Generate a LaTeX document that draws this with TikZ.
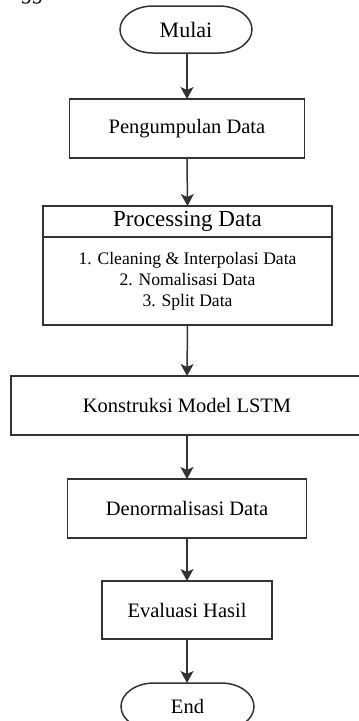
\documentclass[tikz,border=0pt]{standalone}
\usepackage{fontspec}
\setmainfont{Liberation Serif}
\usetikzlibrary{arrows.meta}
\newcommand\termoutline[1]{%
  \draw[draw=black!80, line width=1.5pt]
    ([xshift=33pt]#1.north west) -- ([xshift=-33pt]#1.north east)
    arc[start angle=90, end angle=-90, x radius=33pt, y radius=23.5pt]
    -- ([xshift=33pt]#1.south west)
    arc[start angle=270, end angle=90, x radius=33pt, y radius=23.5pt] -- cycle;}
\begin{document}
\begin{tikzpicture}[x=1pt,y=-1pt,
  every node/.style={inner sep=0pt, outer sep=0pt},
  box/.style={draw=black!80, line width=1.5pt, fill=white, align=center, font=\fontsize{20.5}{24}\selectfont},
  term/.style={align=center, minimum width=132pt, minimum height=47pt},
  conn/.style={draw=black!80, line width=1.5pt, -{Stealth[length=12pt,width=13pt,inset=3pt]}}
]
\useasboundingbox (0,0) rectangle (359,721);
\begin{scope}
\clip (0,0) rectangle (359,721);
\node[anchor=base west, font=\fontsize{22}{24}\selectfont\itshape] (frag) at (22,-0.5) {gg};

\node[term, font=\fontsize{22}{24}\selectfont] (mulai) at (186,29.5) {Mulai};
\termoutline{mulai}
\node[box, minimum width=235pt, minimum height=59pt] (kumpul) at (187,128.5) {Pengumpulan Data};
\node[box, minimum width=289pt, minimum height=31pt, font=\fontsize{23}{26}\selectfont] (proct) at (187.5,221.5) {Processing Data};
\node[box, minimum width=289pt, minimum height=88pt, font=\fontsize{17.6}{21}\selectfont] (procb) at (187.5,281) {1. Cleaning \& Interpolasi Data\\2. Nomalisasi Data\\3. Split Data};
\node[box, minimum width=352pt, minimum height=59pt] (lstm) at (187,405.5) {Konstruksi Model LSTM};
\node[box, minimum width=239pt, minimum height=59pt] (denorm) at (187,508.5) {Denormalisasi Data};
\node[box, minimum width=170pt, minimum height=58pt] (eval) at (187,610) {Evaluasi Hasil};
\node[term, minimum width=133pt, font=\fontsize{20.5}{24}\selectfont] (end) at (187.5,706.5) {End};
\termoutline{end}

\draw[conn] (mulai.south -| kumpul.north) -- (kumpul.north);
\draw[conn] (kumpul.south) -- (proct.north);
\draw[conn] (procb.south) -- (lstm.north);
\draw[conn] (lstm.south) -- (denorm.north);
\draw[conn] (denorm.south) -- (eval.north);
\draw[conn] (eval.south) -- (end.north -| eval.south);
\end{scope}
\end{tikzpicture}
\end{document}
